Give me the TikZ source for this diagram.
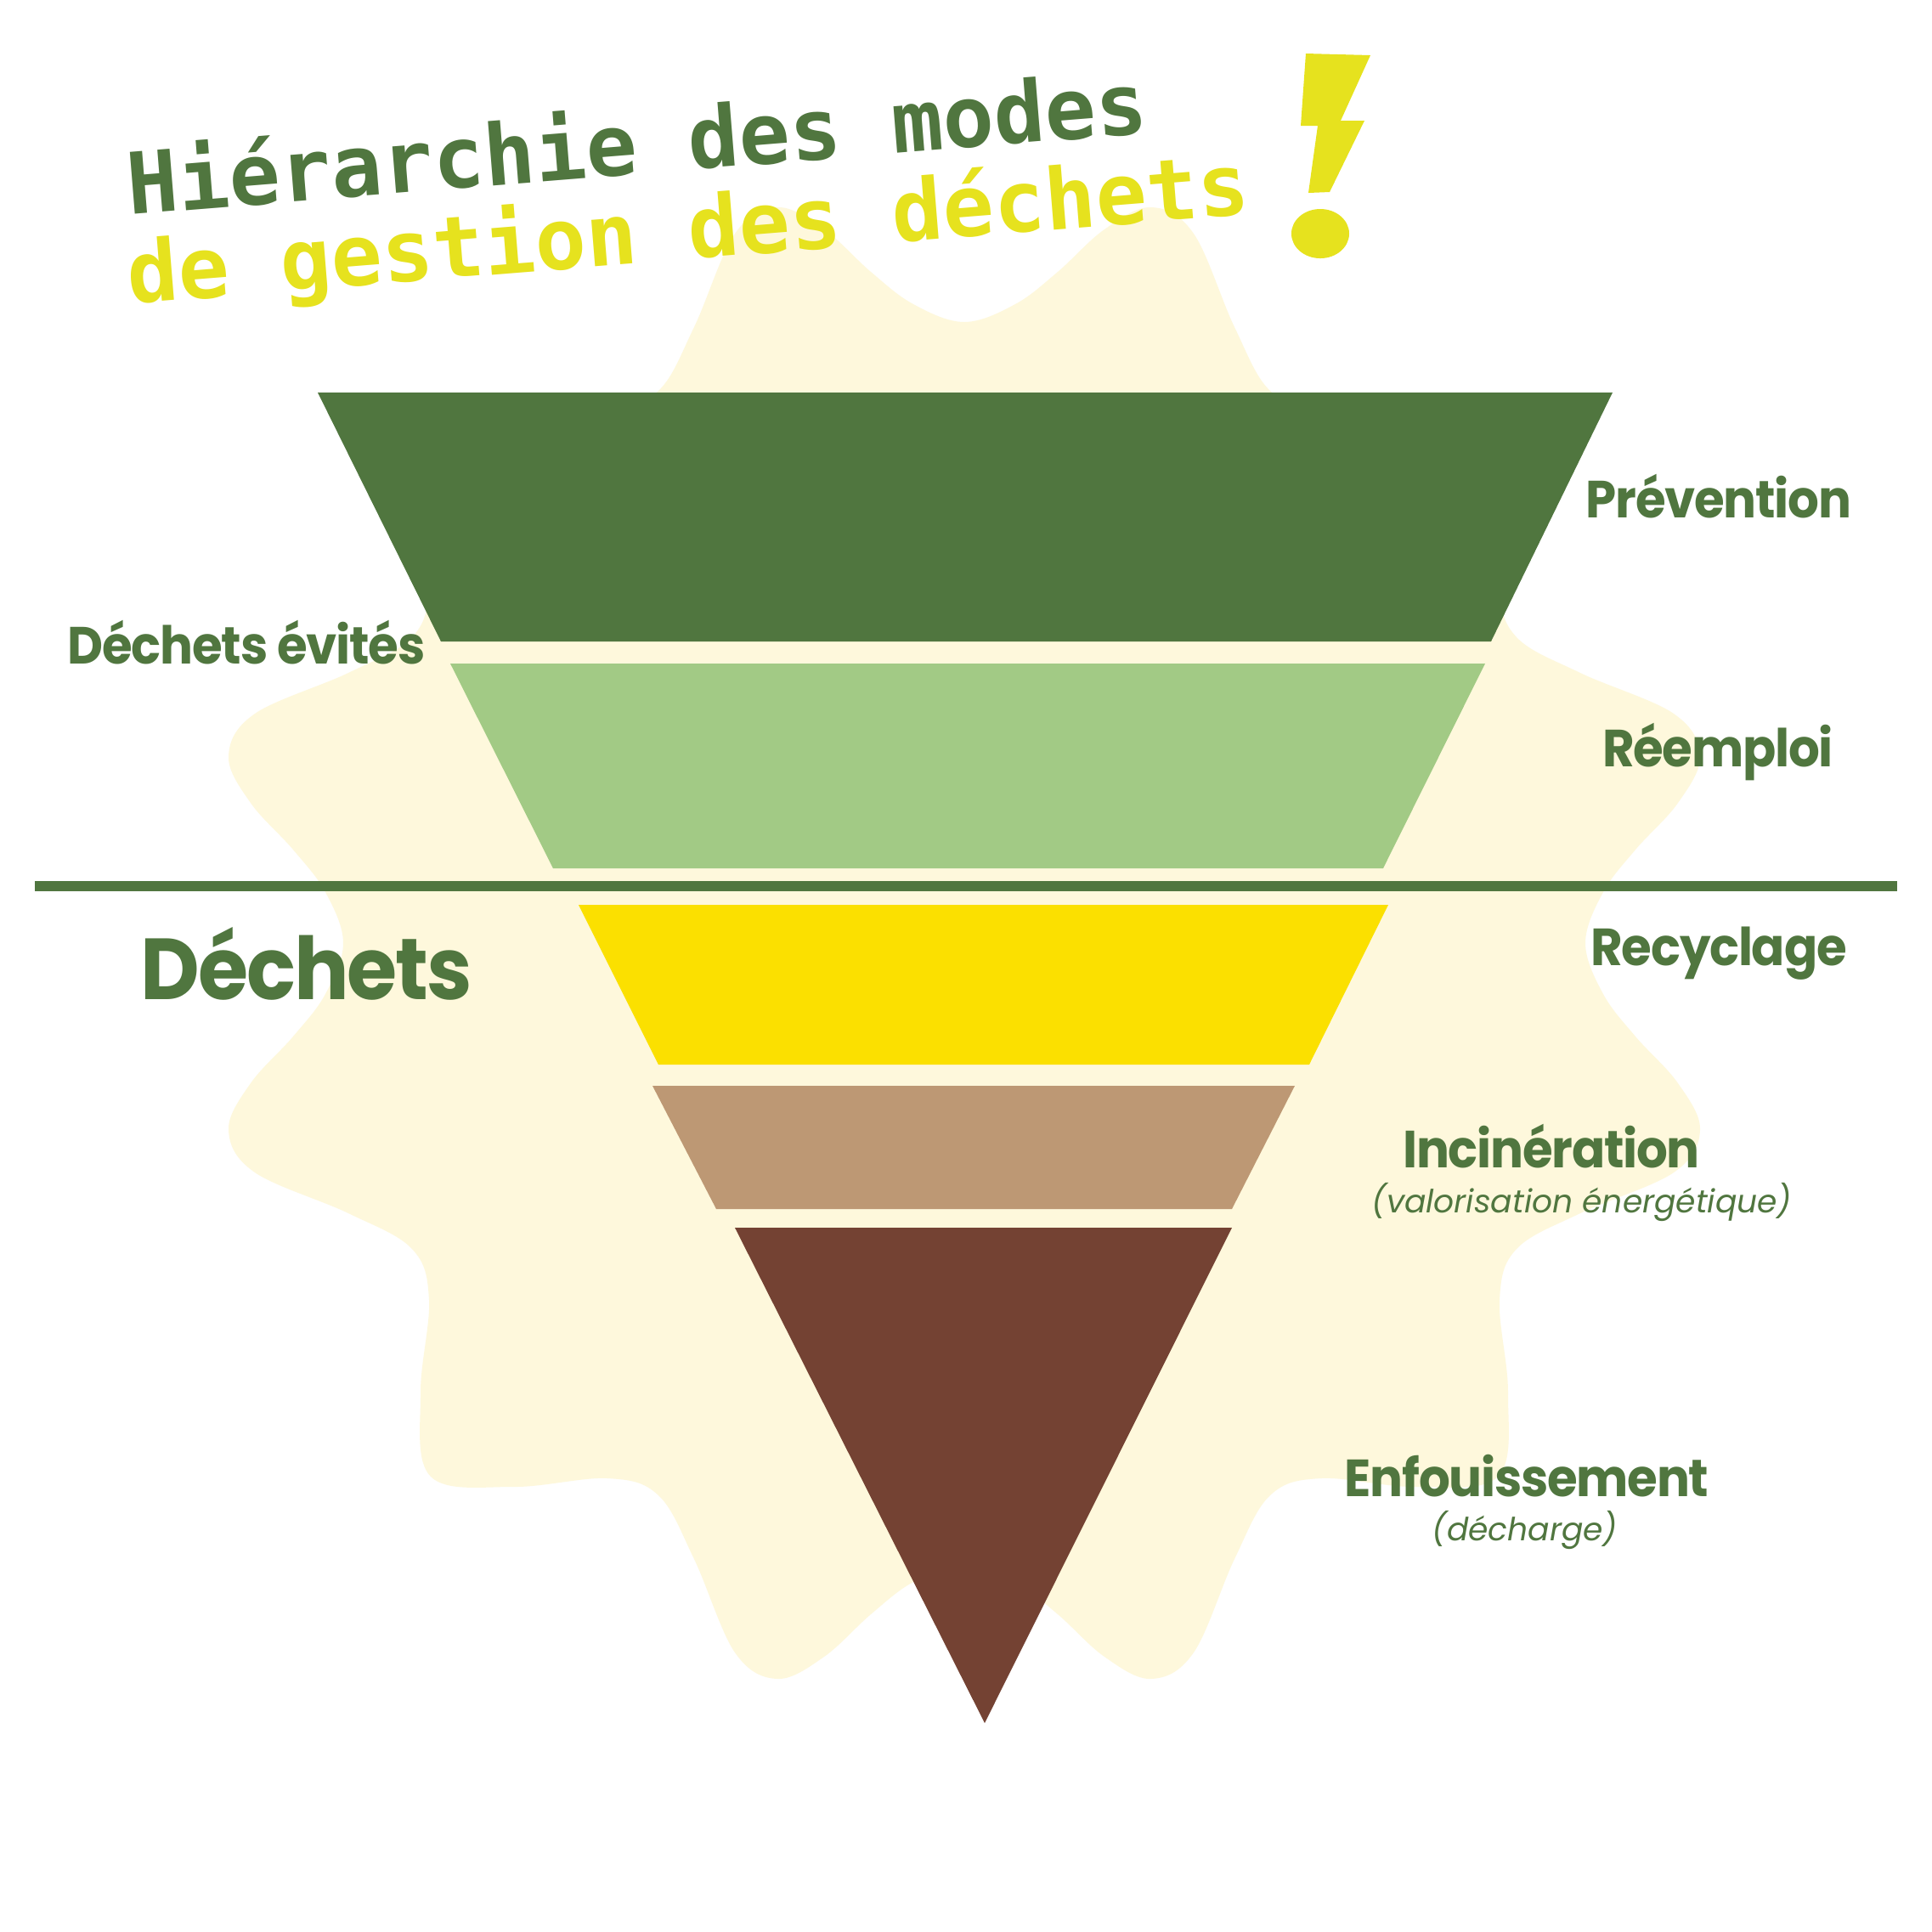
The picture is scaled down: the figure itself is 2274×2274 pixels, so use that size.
\documentclass[tikz,border=0pt]{standalone}
\usepackage{fontspec}
\newfontfamily\labfont{Poppins}[FakeStretch=0.94, LetterSpace=-2]
\newfontfamily\subfont{Poppins}
\newfontfamily\titfont{DejaVu Sans Mono}
\definecolor{dkgreen}{RGB}{80,118,63}
\definecolor{ltgreen}{RGB}{162,202,133}
\definecolor{ylw}{RGB}{251,224,0}
\definecolor{tanc}{RGB}{189,152,116}
\definecolor{brownc}{RGB}{116,66,51}
\definecolor{cream}{RGB}{254,248,220}
\definecolor{tylw}{RGB}{230,226,30}
\begin{document}
\begin{tikzpicture}[x=0.01cm,y=-0.01cm,
  lab/.style={anchor=base,inner sep=0,text=dkgreen,font=\labfont\bfseries\fontsize{17.5}{20}\selectfont},
  biglab/.style={anchor=base,inner sep=0,text=dkgreen,font=\labfont\bfseries\fontsize{29}{32}\selectfont},
  sublab/.style={anchor=base,inner sep=0,text=dkgreen,font=\subfont\itshape\fontsize{10.7}{12}\selectfont},
  ttl/.style={anchor=base west,inner sep=0,rotate=4.6,font=\titfont\bfseries\fontsize{28.45}{30}\selectfont},
  ttlup/.style={ttl,text depth=0pt},
  ttllow/.style={ttl,text height=0.5em}]
\useasboundingbox (0,0) rectangle (2274,2274);
\fill[white] (0,0) rectangle (2274,2274);
% background blob
\fill[cream] plot[smooth cycle, tension=0.6] coordinates {
 (605,470) (715,480) (775,460) (817,385) (865,275) (915,244) (970,270) (1025,320) (1075,358) (1135,379) (1195,358) (1245,320) (1300,270) (1355,244) (1405,275) (1453,385) (1495,460) (1555,480) (1665,470) (1763,482)
 (1775,580) (1765,690) (1785,750) (1860,792) (1970,840) (2001,890) (1975,945) (1925,1000) (1887,1050) (1866,1110) (1887,1170) (1925,1220) (1975,1275) (2001,1330) (1970,1380) (1860,1428) (1785,1470) (1765,1530) (1775,1640) (1763,1738)
 (1665,1750) (1555,1740) (1495,1760) (1453,1835) (1405,1945) (1355,1976) (1300,1950) (1245,1900) (1195,1862) (1135,1841) (1075,1862) (1025,1900) (970,1950) (915,1976) (865,1945) (817,1835) (775,1760) (715,1740) (605,1750) (507,1738)
 (495,1640) (505,1530) (485,1470) (410,1428) (300,1380) (269,1330) (295,1275) (345,1220) (383,1170) (404,1110) (383,1050) (345,1000) (295,945) (269,890) (300,840) (410,792) (485,750) (505,690) (495,580) (507,482)};
% funnel layers
\fill[dkgreen] (374,462) -- (1898,462) -- (1755,755) -- (519,755) -- cycle;
\fill[ltgreen] (530,781) -- (1748,781) -- (1628,1022) -- (651,1022) -- cycle;
\fill[ylw] (681,1065) -- (1634,1065) -- (1541,1253) -- (775,1253) -- cycle;
\fill[tanc] (768,1278) -- (1524,1278) -- (1450,1423) -- (843,1423) -- cycle;
\fill[brownc] (865,1445) -- (1450,1445) -- (1159,2028) -- cycle;
% separator line
\coordinate (lineL) at (41,1043);
\coordinate (lineR) at (2233,1043);
\draw[dkgreen, line width=0.12cm] (lineL) -- (lineR);
% title, word by word along a rising baseline
\begin{scope}[shift={(152,253)}, rotate=4.6]
  \node[ttlup, text=dkgreen] (t1a) at (0,0) {Hiérarchie};
  \node[ttlup, text=dkgreen] (t1b) at (662.2,0) {des};
  \node[ttlup, text=dkgreen] (t1c) at (903,0) {modes};
\end{scope}
\begin{scope}[shift={(152,358)}, rotate=4.6]
  \node[ttllow, text=tylw] (t2a) at (0,0) {de};
  \node[ttllow, text=tylw] (t2b) at (180.6,0) {gestion};
  \node[ttllow, text=tylw] (t2c) at (662.2,0) {des};
  \node[ttllow, text=tylw] (t2d) at (903,0) {déchets};
\end{scope}
% exclamation bolt
\fill[tylw] (1537,63) -- (1613,65) -- (1578,142) -- (1606,142) -- (1565,226) -- (1540,227) -- (1551,148) -- (1531,148) -- cycle;
\fill[tylw] (1554,275) ellipse [x radius=0.34cm, y radius=0.29cm];
% labels
\node[lab] (prev) at (2023,609) {Prévention};
\node[lab] (reem) at (2022,902) {Réemploi};
\node[lab] (recy) at (2023,1136) {Recyclage};
\node[lab] (inci) at (1826,1374) {Incinération};
\node[sublab] (valo) at (1862,1427) {(valorisation énergétique)};
\node[lab] (enfo) at (1797,1761) {Enfouissement};
\node[sublab] (dech) at (1795,1813) {(décharge)};
\node[lab] (evit) at (290,781) {Déchets évités};
\node[biglab] (dchts) at (361,1176) {Déchets};
\end{tikzpicture}
\end{document}
